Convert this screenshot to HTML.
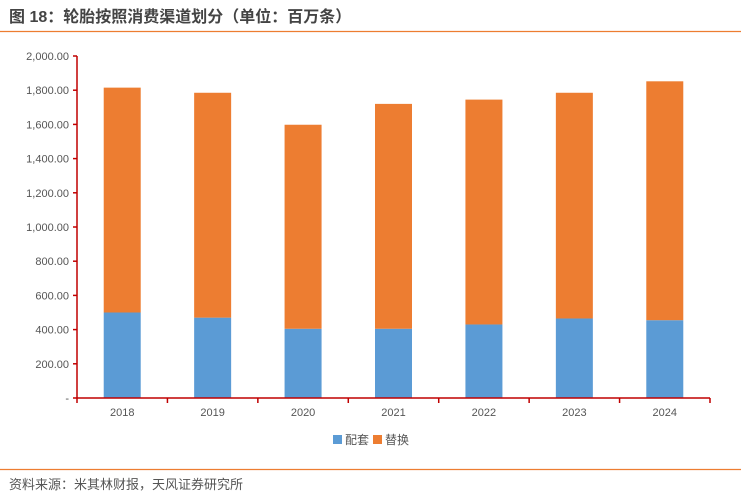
<!DOCTYPE html>
<html><head><meta charset="utf-8"><style>
body{margin:0;background:#fff;font-family:"Liberation Sans","Noto Sans CJK SC",sans-serif;}
#wrap{position:relative;width:741px;height:501px;overflow:hidden;}
</style></head><body>
<div id="wrap">
<svg width="741" height="501" font-family="Liberation Sans, Noto Sans CJK SC, sans-serif">
<text x="9" y="22" font-size="16" font-weight="bold" fill="#444">图 18：轮胎按照消费渠道划分（单位：百万条）</text>
<line x1="0" y1="31.5" x2="741" y2="31.5" stroke="#ED7D31" stroke-width="1.2"/>
<g id="plot"></g>
<g>
<rect x="333" y="435" width="9" height="9" fill="#5B9BD5"/>
<text x="345" y="444" font-size="12" fill="#555">配套</text>
<rect x="373" y="435" width="9" height="9" fill="#ED7D31"/>
<text x="385" y="444" font-size="12" fill="#555">替换</text>
</g>
<line x1="0" y1="469.5" x2="741" y2="469.5" stroke="#ED7D31" stroke-width="1.2"/>
<text x="9" y="489" font-size="13" fill="#555">资料来源：米其林财报，天风证券研究所</text>
</svg>
</div>
<script>
const categories=["2018","2019","2020","2021","2022","2023","2024"];
const oeValues=[500,470,405,405,430,465,455];
const totalValues=[1815,1785,1598,1720,1745,1785,1852];
const yTicks=[0,200,400,600,800,1000,1200,1400,1600,1800,2000];
const NS="http://www.w3.org/2000/svg";
const g=document.getElementById('plot');
const x0=77,x1=710,y0=398,y1=56,yMax=2000;
const bw=(x1-x0)/categories.length;
const ys=v=>y0-(v/yMax)*(y0-y1);
function el(t,a){const e=document.createElementNS(NS,t);for(const k in a)e.setAttribute(k,a[k]);g.appendChild(e);return e;}
yTicks.forEach(v=>{
 const y=ys(v);
 const t=el('line',{x1:x0-4,x2:x0,y1:y,y2:y,stroke:'#C00000','stroke-width':1.5});
 
 
 const tx=el('text',{x:x0-8,y:y+4,'font-size':11,fill:'#555','text-anchor':'end'});
 tx.textContent=v===0?'-':v.toLocaleString('en-US',{minimumFractionDigits:2});
 
 
});
categories.forEach((c,i)=>{
 const cx=x0+bw*(i+0.5),w=37;
 const b=el('rect',{x:cx-w/2,y:ys(oeValues[i]),width:w,height:y0-ys(oeValues[i]),fill:'#5B9BD5'});
 
 
 const r=el('rect',{x:cx-w/2,y:ys(totalValues[i]),width:w,height:ys(oeValues[i])-ys(totalValues[i]),fill:'#ED7D31'});
 
 
 const tx=el('text',{x:cx,y:416,'font-size':11,fill:'#555','text-anchor':'middle'});
 tx.textContent=c;
 
 
});
for(let i=0;i<=categories.length;i++){
 const x=x0+bw*i;
 const t=el('line',{x1:x,x2:x,y1:y0,y2:y0+5,stroke:'#C00000','stroke-width':1.5});
 
 
}
const ya=el('line',{x1:x0,x2:x0,y1:y1,y2:y0,stroke:'#C00000','stroke-width':1.5});


const xa=el('line',{x1:x0,x2:x1,y1:y0,y2:y0,stroke:'#C00000','stroke-width':1.5});


</script>
</body></html>
